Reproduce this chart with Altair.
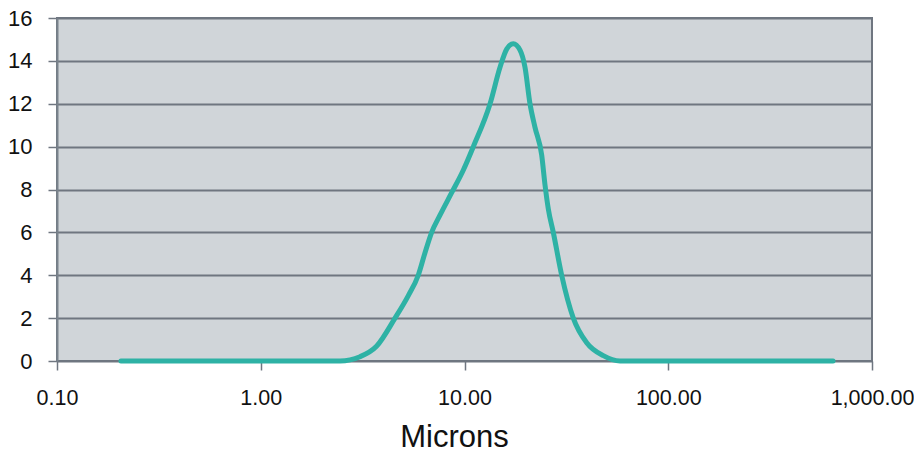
import altair as alt
import pandas as pd

# Particle size (microns) and volume %
microns = [0.206, 2.45, 3.07, 3.71, 4.56, 5.30, 5.93, 6.40, 6.90, 7.58, 8.65,
           9.86, 11.05, 13.35, 14.94, 16.11, 17.36, 18.73, 19.81, 20.96, 22.18,
           23.93, 24.85, 25.78, 27.28, 29.99, 34.20, 39.79, 48.0, 57.97, 644.0]
volume = [0, 0, 0.2, 0.7, 2.0, 3.05, 4.0, 5.05, 6.0, 6.8, 7.85,
          8.9, 10.0, 12.0, 13.7, 14.55, 14.8, 14.5, 13.7, 12.0, 10.9,
          9.6, 8.2, 7.1, 6.0, 4.0, 2.0, 0.85, 0.25, 0, 0]

x_ticks = [0.1, 1, 10, 100, 1000]
y_ticks = [0, 2, 4, 6, 8, 10, 12, 14, 16]

df = pd.DataFrame({"microns": microns, "volume": volume})

GRID = "#6f7680"
FONT = "Liberation Sans"

chart = alt.Chart(df).mark_line(
    color="#2eb2a5", strokeWidth=5, strokeCap="round", strokeJoin="round",
    interpolate="monotone"
).encode(
    x=alt.X("microns:Q",
            scale=alt.Scale(type="log", domain=[0.1, 1000], nice=False),
            axis=alt.Axis(values=x_ticks, format=",.2f", grid=False, domain=False,
                          tickColor=GRID, tickSize=9, tickWidth=1.5,
                          labelFontSize=21.5, labelPadding=17, labelColor="#111",
                          labelFont=FONT, labelFlush=False,
                          title="Microns", titleFontSize=31, titleFont=FONT,
                          titleFontWeight="normal", titleColor="#111",
                          titleX=397, titleY=85, titleAlign="center",
                          titleBaseline="alphabetic")),
    y=alt.Y("volume:Q",
            scale=alt.Scale(domain=[0, 16], nice=False),
            axis=alt.Axis(values=y_ticks, grid=True, gridColor=GRID, gridWidth=1.8,
                          domain=True, domainColor="#7a838c", domainWidth=2,
                          tickColor=GRID, tickSize=9, tickWidth=1.5,
                          labelFontSize=22, labelPadding=16, labelColor="#111",
                          labelFont=FONT, labelFlush=False, title=None))
).properties(
    width=815, height=343,
    autosize=alt.AutoSizeParams(type="none"),
    padding={"left": 49, "top": 10, "right": 42, "bottom": 88},
).configure_view(
    fill="#d0d5d9", stroke=GRID, strokeWidth=2
)

chart.save("out.html", embed_options={"renderer": "svg", "actions": False})
